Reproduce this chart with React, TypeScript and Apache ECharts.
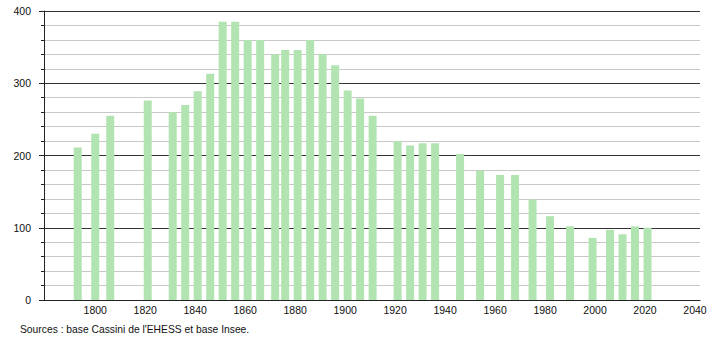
import React, { useEffect, useRef } from "react";
import * as echarts from "echarts";

const years = [1793, 1800, 1806, 1821, 1831, 1836, 1841, 1846, 1851, 1856, 1861, 1866, 1872, 1876, 1881, 1886, 1891, 1896, 1901, 1906, 1911, 1921, 1926, 1931, 1936, 1946, 1954, 1962, 1968, 1975, 1982, 1990, 1999, 2006, 2011, 2016, 2021];
const population = [211, 230, 255, 276, 260, 270, 289, 313, 385, 385, 360, 360, 340, 346, 346, 360, 340, 325, 290, 279, 255, 220, 214, 217, 217, 202, 179, 173, 173, 139, 116, 102, 86, 97, 91, 102, 100];
const xTickLabels = [1800, 1820, 1840, 1860, 1880, 1900, 1920, 1940, 1960, 1980, 2000, 2020, 2040];
const sourceText = "Sources : base Cassini de l'EHESS et base Insee.";

export default function App() {
  const ref = useRef<HTMLDivElement>(null);
  useEffect(() => {
    if (!ref.current) return;
    document.body.style.margin = "0";
    const chart = echarts.init(ref.current, null, { renderer: "svg" });
    const font = "Liberation Sans, Arial, sans-serif";
    chart.setOption({
      animation: false,
      grid: { left: 44, right: 10, top: 11, bottom: 40, containLabel: false },
      xAxis: {
        type: "value",
        min: 1779.5,
        max: 2042,
        axisLine: { show: true, lineStyle: { color: "#222", width: 1 } },
        axisTick: { show: false },
        splitLine: { show: false },
        axisLabel: {
          customValues: xTickLabels,
          formatter: (v: number) => String(v),
          color: "#111",
          fontSize: 10.5,
          fontFamily: font,
          margin: 4,
        },
      },
      yAxis: {
        type: "value",
        min: 0,
        max: 400,
        interval: 100,
        axisLine: { show: true, lineStyle: { color: "#222", width: 1 } },
        axisTick: { show: true, length: 5, lineStyle: { color: "#222" } },
        minorTick: { show: true, splitNumber: 5, length: 3, lineStyle: { color: "#222" } },
        splitLine: { show: true, lineStyle: { color: "#333", width: 1 } },
        minorSplitLine: { show: true, lineStyle: { color: "#c8c8c8", width: 1 } },
        axisLabel: { color: "#111", fontSize: 10.5, fontFamily: font, margin: 13 },
      },
      series: [
        {
          type: "bar",
          data: years.map((y, i) => [y, population[i]]),
          barWidth: 8,
          itemStyle: { color: "#b2e4b2" },
          z: 3,
        },
      ],
      graphic: [
        {
          type: "text",
          left: 20,
          top: 324,
          style: { text: sourceText, fill: "#111", fontSize: 10.3, fontFamily: font },
        },
      ],
    });
    return () => chart.dispose();
  }, []);
  return <div ref={ref} style={{ width: 710, height: 340 }} />;
}
